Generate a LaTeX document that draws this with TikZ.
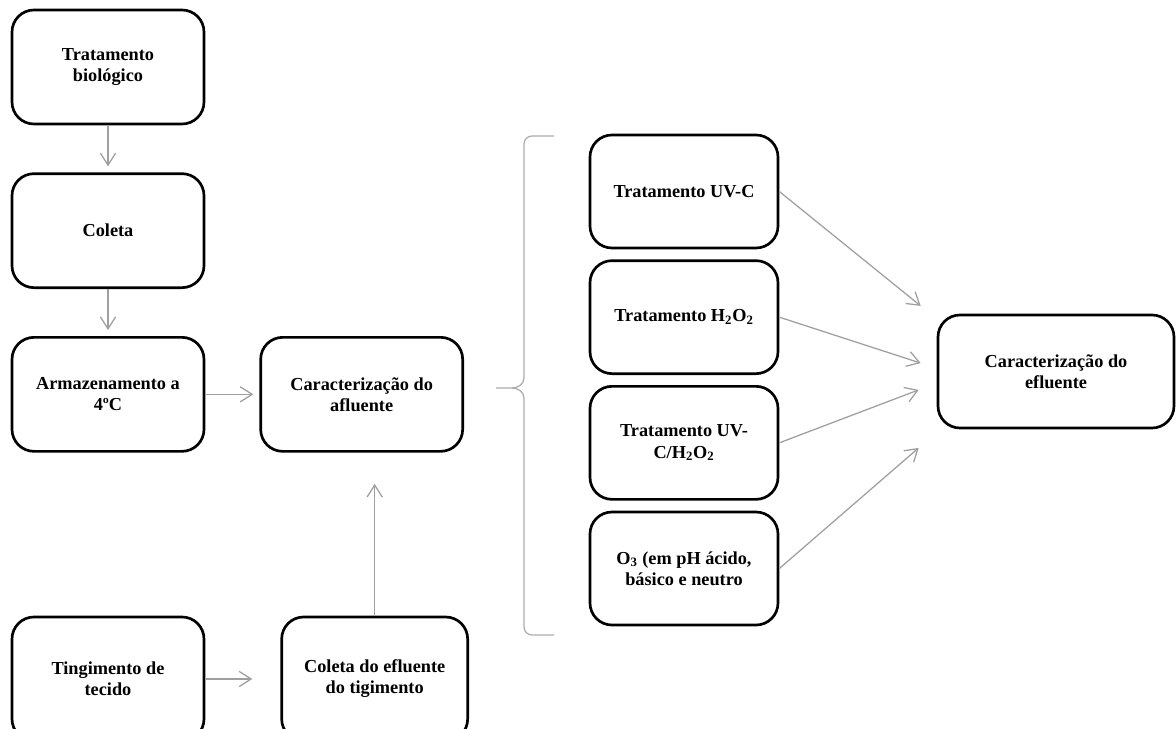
\documentclass[tikz,border=0pt]{standalone}
\usepackage{fontspec}
\setmainfont{Liberation Serif}
\usetikzlibrary{arrows.meta,positioning}

\begin{document}
\begin{tikzpicture}[>={Straight Barb[length=.3cm,width=.38cm]},
  node distance=1.175cm and 1.35cm,
  every node/.style={font=\fontsize{13}{15}\selectfont\bfseries},
  box/.style={draw,line width=1.9pt,rounded corners=.55cm,align=center,
    minimum width=4.8cm,minimum height=2.85cm},
  sidebox/.style={box,minimum width=4.7cm,minimum height=2.825cm},
  link/.style={->,draw=gray!75,line width=.9pt}]
 \useasboundingbox (0,0) rectangle (29.4,-18.225);
 \node[box] (bio) at (2.7,-1.675) {Tratamento\\biológico};
 \node[box,below=of bio] (coleta) {Coleta};
 \node[box,below=of coleta] (armaz) {Armazenamento a\\4ºC};
 \node[box,right=of armaz,minimum width=5.05cm] (afl) {Caracterização do\\afluente};
 \node[box,minimum height=3.1cm] (ting) at (2.7,-16.975) {Tingimento de\\tecido};
 \node[box,right=1.875cm of ting,minimum width=4.65cm,minimum height=3.1cm]
   (colef) {Coleta do efluente\\do tigimento};
 \node[sidebox] (uvc) at (17.1,-4.7875) {Tratamento UV-C};
 \node[sidebox,below=.25cm of uvc] (hp) {Tratamento H\textsubscript{2}O\textsubscript{2}};
 \node[sidebox,below=.25cm of hp] (uvhp)
   {Tratamento UV-\\C/H\textsubscript{2}O\textsubscript{2}};
 \node[sidebox,below=.25cm of uvhp] (ozo)
   {O\textsubscript{3} (em pH ácido,\\básico e neutro};
 \node[box,minimum width=5.9cm,minimum height=2.825cm] (efl) at (26.4,-9.2875)
   {Caracterização do\\efluente};
 \coordinate[left=.4cm of efl.west,yshift=1.64cm] (in1);
 \coordinate[left=.4cm of efl.west,yshift=.21cm] (in2);
 \coordinate[left=.45cm of efl.west,yshift=-.46cm] (in3);
 \coordinate[left=.45cm of efl.west,yshift=-1.91cm] (in4);
 \draw[link,shorten >=.15cm] (bio) -- (coleta);
 \draw[link,shorten >=.15cm] (coleta) -- (armaz);
 \draw[link,shorten >=.15cm] (armaz) -- (afl);
 \draw[link,shorten >=.7cm] (ting) -- (colef);
 \draw[link,shorten >=.78cm] (colef.north) -- (colef.north |- afl.south);
 \draw[link] (uvc.east) -- (in1);
 \draw[link] (hp.east) -- (in2);
 \draw[link] (uvhp.east) -- (in3);
 \draw[link] (ozo.east) -- (in4);
 \draw[gray!65,line width=.9pt] (13.85,-3.4) -- (13.3,-3.4) to[out=180,in=90]
   (13.1,-3.6) -- (13.1,-9.45) to[out=-90,in=0] (12.8,-9.7) -- (12.4,-9.7)
   (12.8,-9.7) to[out=0,in=90] (13.1,-9.95) -- (13.1,-15.675)
   to[out=-90,in=180] (13.3,-15.875) -- (13.85,-15.875);
\end{tikzpicture}
\end{document}
